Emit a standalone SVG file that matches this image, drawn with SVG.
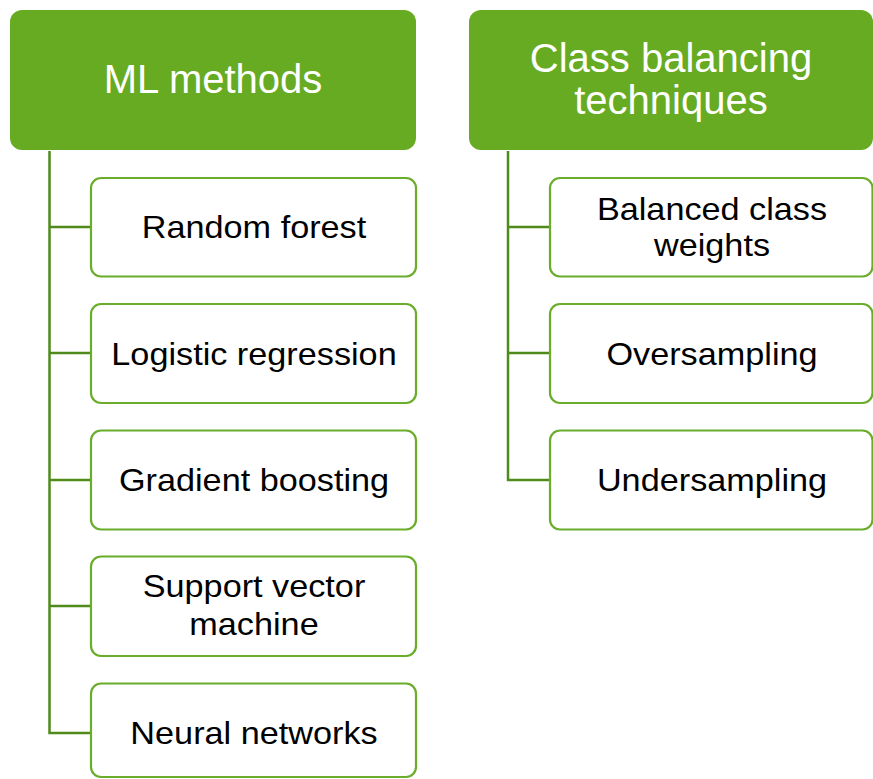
<svg xmlns="http://www.w3.org/2000/svg" width="873" height="779" viewBox="0 0 873 779">
<style>
.hdr{fill:#67AB23;}
.box{fill:#FFFFFF;stroke:#6AAD2A;stroke-width:2.2;}
.conn{fill:none;stroke:#4F8B1B;stroke-width:2.5;}
.ht{font-family:"Liberation Sans",Arial,sans-serif;font-size:40px;fill:#FFFFFF;text-anchor:middle;}
.ct{font-family:"Liberation Sans",Arial,sans-serif;font-size:32px;fill:#000000;text-anchor:middle;}
</style>
<rect width="873" height="779" fill="#FFFFFF"/>
<g id="connectors">
<path class="conn" d="M49.5 151 V733 H91"/>
<path class="conn" d="M49.5 227 H91 M49.5 353 H91 M49.5 480 H91 M49.5 606 H91"/>
<path class="conn" d="M508 151 V480 H550"/>
<path class="conn" d="M508 227 H550 M508 353 H550"/>
</g>
<g id="ml-methods">
<rect class="hdr" x="10" y="10" width="406" height="140" rx="12"/>
<text class="ht" x="213" y="93">ML methods</text>
</g>
<g id="random-forest">
<rect class="box" x="91" y="178" width="325" height="98.5" rx="10"/>
<text class="ct" transform="translate(254 238) scale(1.07 1)">Random forest</text>
</g>
<g id="logistic-regression">
<rect class="box" x="91" y="304" width="325" height="99" rx="10"/>
<text class="ct" transform="translate(254 364.5) scale(1.07 1)">Logistic regression</text>
</g>
<g id="gradient-boosting">
<rect class="box" x="91" y="430.5" width="325" height="99" rx="10"/>
<text class="ct" transform="translate(254 491) scale(1.07 1)">Gradient boosting</text>
</g>
<g id="svm">
<rect class="box" x="91" y="556.5" width="325" height="99.5" rx="10"/>
<text class="ct" transform="translate(254 597) scale(1.07 1)">Support vector</text>
<text class="ct" transform="translate(254 634.5) scale(1.07 1)">machine</text>
</g>
<g id="neural-networks">
<rect class="box" x="91" y="683.5" width="325" height="93.5" rx="10"/>
<text class="ct" transform="translate(254 743.5) scale(1.07 1)">Neural networks</text>
</g>
<g id="class-balancing">
<rect class="hdr" x="469" y="10" width="404" height="140" rx="12"/>
<text class="ht" x="671" y="72">Class balancing</text>
<text class="ht" x="671" y="114">techniques</text>
</g>
<g id="balanced-weights">
<rect class="box" x="550" y="178" width="322.5" height="98.5" rx="10"/>
<text class="ct" transform="translate(712 219.5) scale(1.07 1)">Balanced class</text>
<text class="ct" transform="translate(712 255.5) scale(1.07 1)">weights</text>
</g>
<g id="oversampling">
<rect class="box" x="550" y="304" width="322.5" height="99" rx="10"/>
<text class="ct" transform="translate(712 364.5) scale(1.07 1)">Oversampling</text>
</g>
<g id="undersampling">
<rect class="box" x="550" y="430.5" width="322.5" height="99" rx="10"/>
<text class="ct" transform="translate(712 491) scale(1.07 1)">Undersampling</text>
</g>
</svg>
